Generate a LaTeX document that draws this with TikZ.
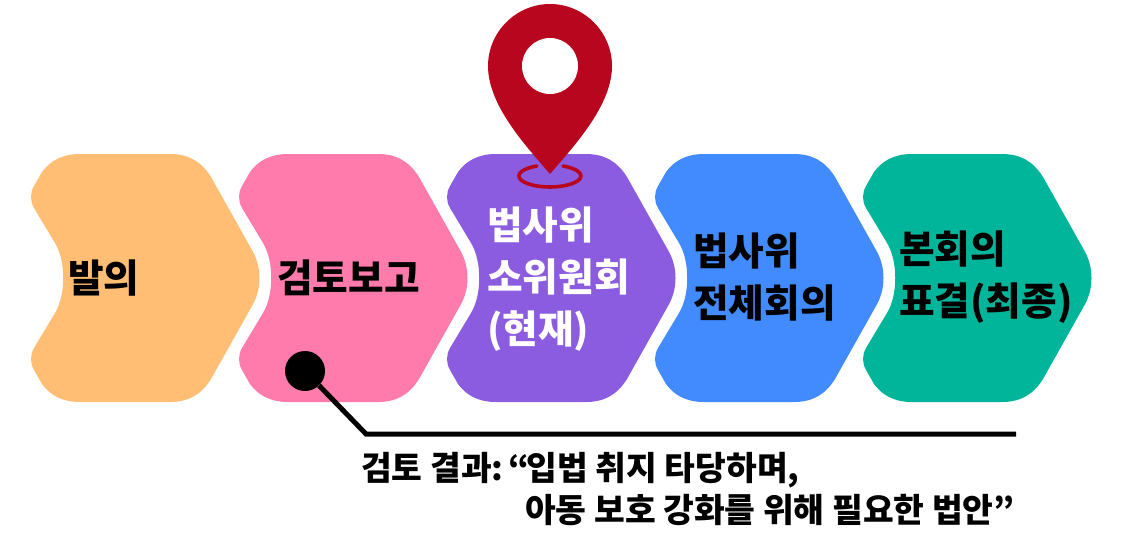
\documentclass[tikz,border=0pt]{standalone}
\usepackage{fontspec}
\setmainfont{Noto Sans CJK KR}
\newfontfamily\notefont[UprightFont=* Black]{Noto Sans CJK KR}
\definecolor{chevorange}{HTML}{FFBE73}
\definecolor{chevpink}{HTML}{FF7BAC}
\definecolor{chevpurple}{HTML}{8C5CE0}
\definecolor{chevblue}{HTML}{428BFF}
\definecolor{chevgreen}{HTML}{00B59A}
\definecolor{pinred}{HTML}{B8061F}
\tikzset{
	steplabel/.style={anchor=west,align=left,inner sep=0pt,font=\fontsize{38.7}{52}\selectfont\bfseries},
	notelabel/.style={anchor=west,inner sep=0pt,font=\notefont\fontsize{33.4}{40}\selectfont},
	leader/.style={draw=black,line width=5pt}
}
\begin{document}
\begin{tikzpicture}[x=1pt,y=-1pt]
	\useasboundingbox (0,0) rectangle (1123,536);
	\foreach \x/\col in {0/chevorange,208/chevpink,416/chevpurple,624/chevblue,832/chevgreen}
		\fill[fill=\col,xshift=\x pt] (80,154) -- (170,154)
			.. controls (188,154) and (201,161) .. (211,177) -- (252,250)
			.. controls (262,267) and (262,289) .. (252,306) -- (211,379)
			.. controls (201,395) and (188,402) .. (170,402) -- (80,402)
			.. controls (62,402) and (50,395) .. (42,384) -- (34,370)
			.. controls (30,363) and (30,355) .. (34,348) -- (55,313)
			.. controls (66,295) and (66,261) .. (55,243) -- (34,208)
			.. controls (30,201) and (30,193) .. (34,186) -- (42,172)
			.. controls (50,161) and (62,154) .. (80,154) -- cycle;
	\node[steplabel] (proposal) at (68,278) {발의};
	\node[steplabel] (review) at (277,278) {검토보고};
	\node[steplabel,text=white] (subcommittee) at (487,279) {법사위\\소위원회\\(현재)};
	\node[steplabel] (fullcommittee) at (693,277) {법사위\\전체회의};
	\node[steplabel] (plenary) at (899,277) {본회의\\표결(최종)};
	% location pin
	\fill[fill=pinred] (550,4) .. controls (584,4) and (612,32) .. (612,66)
		.. controls (612,105) and (575,145) .. (550,174)
		.. controls (525,145) and (488,105) .. (488,66)
		.. controls (488,32) and (516,4) .. (550,4) -- cycle;
	\node[circle,fill=white,minimum size=56pt,inner sep=0pt] (pinhole) at (550,66) {};
	\draw[pinred,line width=3.6pt,line cap=round] (563,166) arc[start angle=65,end angle=-245,x radius=31pt,y radius=11pt];
	% review note
	\node[circle,fill=black,minimum size=40pt,inner sep=0pt] (reviewdot) at (305,371) {};
	\coordinate (elbow) at (366,434);
	\coordinate (lineend) at (1016,434);
	\draw[leader] (reviewdot) -- (elbow) -- (lineend);
	\node[notelabel] (noteone) at (361,470) {검토 결과: \kern-5pt “\kern-3pt 입법 취지 타당하며,};
	\node[notelabel] (notetwo) at (525,510) {아동 보호 강화를 위해 필요한 법안”};
\end{tikzpicture}
\end{document}
